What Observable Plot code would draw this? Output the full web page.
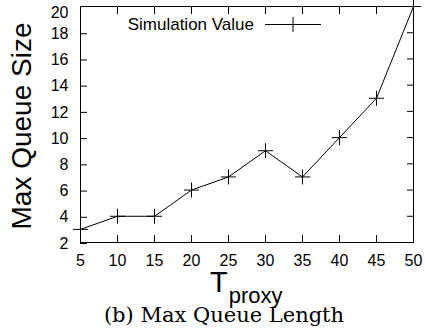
<!DOCTYPE html>
<html>
<head>
<meta charset="utf-8">
<script src="https://cdn.jsdelivr.net/npm/d3@7"></script>
<script src="https://cdn.jsdelivr.net/npm/@observablehq/plot@0.6"></script>
<style>
  html, body { margin: 0; padding: 0; background: white; }
  #chart { width: 425px; height: 333px; }
</style>
</head>
<body>
<div id="chart"></div>
<script>
// Data
const tProxy = [5, 10, 15, 20, 25, 30, 35, 40, 45, 50];
const maxQueue = [3, 4, 4, 6, 7, 9, 7, 10, 13, 20];
const xTicks = [5, 10, 15, 20, 25, 30, 35, 40, 45, 50];
const yTicks = [2, 4, 6, 8, 10, 12, 14, 16, 18];
const yTopTick = [20];
const xMirrorTicks = [10, 15, 20, 25, 30, 35, 40, 45];
const yMirrorTicks = [4, 6, 8, 10, 12, 14, 16, 18];
const seriesName = "Simulation Value";
const yLabel = "Max Queue Size";
const xLabelMain = "T";
const xLabelSub = "proxy";
const caption = "(b) Max Queue Length";

const table = tProxy.map((t, i) => ({t, q: maxQueue[i]}));

const plusSymbol = {
  draw(context, size) {
    const r = Math.sqrt(size / Math.PI);
    context.moveTo(-r, 0); context.lineTo(r, 0);
    context.moveTo(0, -r); context.lineTo(0, r);
  }
};

const W = 425, H = 333;
const mL = 80, mR = 12, mT = 6, mB = 91;
const FONT = "'Liberation Sans', Arial, sans-serif";

const chart = Plot.plot({
  width: W, height: H,
  marginLeft: mL, marginRight: mR, marginTop: mT, marginBottom: mB,
  style: {fontFamily: FONT, fontSize: "16px", color: "black", background: "white"},
  x: {domain: [5, 50]},
  y: {domain: [2, 20]},
  marks: [
    Plot.frame({stroke: "black"}),
    Plot.axisX(xTicks, {anchor: "bottom", tickSize: -7, tickPadding: 19, label: null, fontSize: 16}),
    Plot.axisY(yTicks, {anchor: "left", tickSize: -7, tickPadding: 19, label: null, fontSize: 16, dy: 1}),
    Plot.axisY(yTopTick, {anchor: "left", tickSize: 0, tickPadding: 12, label: null, fontSize: 16, dy: 6}),
    Plot.axisX(xMirrorTicks, {anchor: "top", tickSize: -7, fill: "none", label: null}),
    Plot.axisY(yMirrorTicks, {anchor: "right", tickSize: -7, fill: "none", label: null}),
    Plot.line(table, {x: "t", y: "q", stroke: "black", strokeWidth: 1}),
    Plot.dot(table, {x: "t", y: "q", symbol: plusSymbol, r: 7.5, stroke: "black", fill: "none", strokeWidth: 1})
  ]
});

document.getElementById("chart").appendChild(chart);

const svg = d3.select(chart);

// Y axis label
svg.append("text")
  .attr("transform", "translate(31,126) rotate(-90)")
  .attr("text-anchor", "middle")
  .attr("font-family", FONT)
  .attr("font-size", 28)
  .attr("fill", "black")
  .text(yLabel);

// X axis label with subscript
const xl = svg.append("text")
  .attr("x", 210).attr("y", 292)
  .attr("text-anchor", "start")
  .attr("font-family", FONT)
  .attr("font-size", 29)
  .attr("fill", "black");
xl.append("tspan").text(xLabelMain);
xl.append("tspan").attr("font-size", 22).attr("dy", 11).attr("dx", 1).text(xLabelSub);

// Caption
svg.append("text")
  .attr("x", 224).attr("y", 322)
  .attr("text-anchor", "middle")
  .attr("font-family", "'DejaVu Serif', serif")
  .attr("font-size", 21)
  .attr("fill", "black")
  .text(caption);

// Legend
const lg = svg.append("g");
lg.append("text")
  .attr("x", 254).attr("y", 30)
  .attr("text-anchor", "end")
  .attr("font-family", FONT)
  .attr("font-size", 17)
  .attr("fill", "black")
  .text(seriesName);
lg.append("line").attr("x1", 265).attr("x2", 321).attr("y1", 24.5).attr("y2", 24.5)
  .attr("stroke", "black").attr("stroke-width", 1);
lg.append("path").attr("d", "M285.5,24.5H300.5M293,17V32")
  .attr("stroke", "black").attr("fill", "none").attr("stroke-width", 1);
</script>
</body>
</html>
